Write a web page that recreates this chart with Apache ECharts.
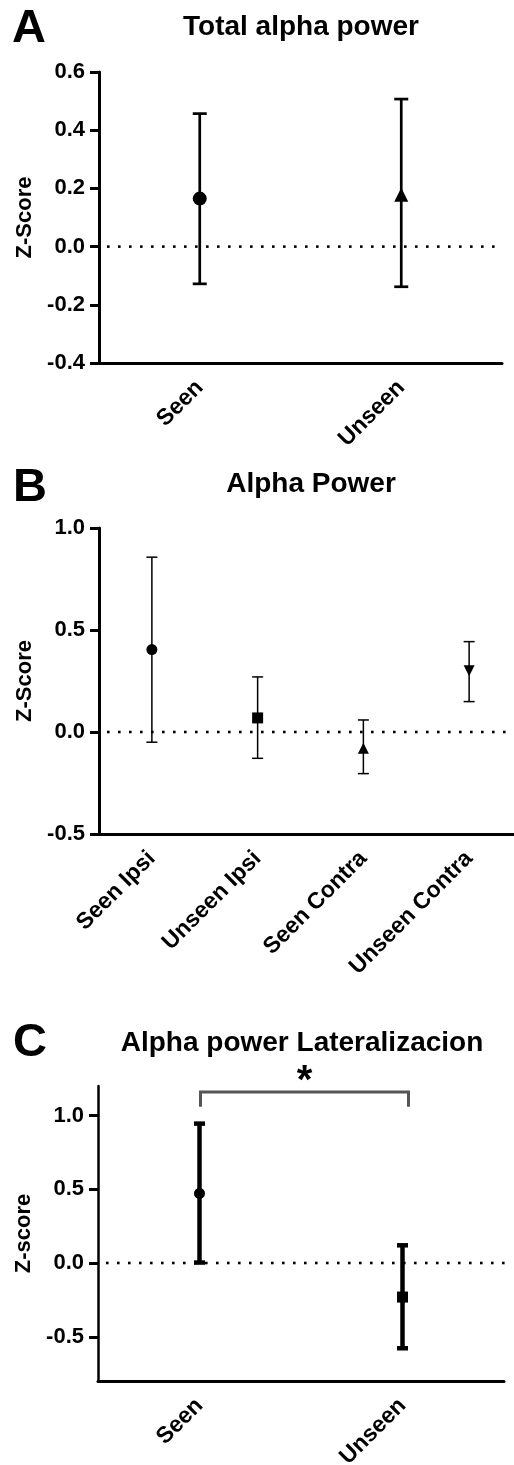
<!DOCTYPE html>
<html>
<head>
<meta charset="UTF-8" />
<title>Alpha power</title>
<script src="https://cdn.jsdelivr.net/npm/echarts@6/dist/echarts.min.js"></script>
<style type="text/css">
    html, body { margin: 0; padding: 0; background: #fff; }
    #chart { width: 514px; height: 1465px; }
</style>
</head>
<body>
<div id="chart"></div>
<script type="text/javascript">
// panel A - total alpha power
var catsA = ['Seen', 'Unseen'];
var meanA = [0.165, 0.178];
var lowA = [-0.128, -0.138];
var highA = [0.457, 0.507];
var symA = ['circle', 'triangle'];

// panel B - alpha power per side
var catsB = ['Seen Ipsi', 'Unseen Ipsi', 'Seen Contra', 'Unseen Contra'];
var meanB = [0.404, 0.069, -0.080, 0.300];
var lowB = [-0.050, -0.129, -0.204, 0.149];
var highB = [0.857, 0.270, 0.059, 0.443];
var symB = ['circle', 'rect', 'triangle', 'triangle'];
var rotB = [0, 0, 0, 180];

// panel C - lateralization
var catsC = ['Seen', 'Unseen'];
var meanC = [0.472, -0.231];
var lowC = [0.003, -0.578];
var highC = [0.945, 0.120];
var symC = ['circle', 'rect'];
var ticksC = [-0.5, 0, 0.5, 1.0];
var bracketC = [0, 1, 1.16, 1.06];   // from cat, to cat, top value, foot value

var FONT = "'Liberation Sans', Arial, sans-serif";

function fmt(v) { return v.toFixed(1); }

function xAxis(grid, cats) {
    return {
        type: 'category', gridIndex: grid, data: cats, boundaryGap: true,
        axisLine: { onZero: false, lineStyle: { color: '#000', width: 3 } },
        axisTick: { alignWithLabel: true, length: 8, lineStyle: { color: '#000', width: 3 } },
        axisLabel: { rotate: 45, margin: 21, color: '#000', fontFamily: FONT, fontWeight: 'bold', fontSize: 23, interval: 0 },
        splitLine: { show: false }
    };
}

function yAxis(grid, min, max, interval, name, gap) {
    return {
        type: 'value', gridIndex: grid, min: min, max: max, interval: interval,
        name: name, nameLocation: 'middle', nameGap: gap,
        nameTextStyle: { color: '#000', fontFamily: FONT, fontWeight: 'bold', fontSize: 22 },
        axisLine: { show: true, lineStyle: { color: '#000', width: 3 } },
        axisTick: { show: true, length: 9, lineStyle: { color: '#000', width: 3 } },
        axisLabel: { margin: 14, color: '#000', fontFamily: FONT, fontWeight: 'bold', fontSize: 22, formatter: fmt },
        splitLine: { show: false }
    };
}

// dotted line at zero across the plot area (drawn as small dots)
function zeroLine(idx) {
    return {
        type: 'custom', xAxisIndex: idx, yAxisIndex: idx, z: 2, silent: true, clip: false,
        data: [[0, 0]],
        renderItem: function (params, api) {
            var cs = params.coordSys;
            var y = api.coord([0, api.value(1)])[1];
            var dots = [];
            for (var x = cs.x + 8; x < cs.x + cs.width - 1; x += 11) {
                dots.push({ type: 'rect', shape: { x: x, y: y - 1.3, width: 2.6, height: 2.6 }, style: { fill: '#000' } });
            }
            return { type: 'group', children: dots };
        }
    };
}

function errorBars(idx, lo, hi, lw, capW) {
    return {
        type: 'custom', xAxisIndex: idx, yAxisIndex: idx, z: 3, silent: true,
        data: lo.map(function (l, i) { return [i, l, hi[i]]; }),
        renderItem: function (params, api) {
            var p0 = api.coord([api.value(0), api.value(1)]);
            var p1 = api.coord([api.value(0), api.value(2)]);
            var s = { stroke: '#000', lineWidth: lw };
            return {
                type: 'group',
                children: [
                    { type: 'line', shape: { x1: p0[0], y1: p0[1], x2: p1[0], y2: p1[1] }, style: s },
                    { type: 'line', shape: { x1: p0[0] - capW / 2, y1: p0[1], x2: p0[0] + capW / 2, y2: p0[1] }, style: s },
                    { type: 'line', shape: { x1: p1[0] - capW / 2, y1: p1[1], x2: p1[0] + capW / 2, y2: p1[1] }, style: s }
                ]
            };
        }
    };
}

function means(idx, vals, syms, rots, size) {
    return {
        type: 'scatter', xAxisIndex: idx, yAxisIndex: idx, z: 4, silent: true,
        symbolSize: size,
        itemStyle: { color: '#000', opacity: 1 },
        data: vals.map(function (v, i) {
            return { value: [i, v], symbol: syms[i], symbolRotate: rots ? rots[i] : 0 };
        })
    };
}

function label(txt, x, y, size, align) {
    return {
        type: 'text', x: x, y: y,
        style: { text: txt, font: 'bold ' + size + 'px ' + FONT, fill: '#000', textAlign: align, textVerticalAlign: 'middle' }
    };
}

var chart = echarts.init(document.getElementById('chart'));
chart.setOption({
    animation: false,
    backgroundColor: '#fff',
    grid: [
        { left: 99, top: 72, right: 12, height: 291, outerBoundsMode: 'none', containLabel: false },
        { left: 99, top: 528, right: -8, height: 306, outerBoundsMode: 'none', containLabel: false },
        { left: 98, top: 1086, right: 10, height: 295, outerBoundsMode: 'none', containLabel: false }
    ],
    xAxis: [xAxis(0, catsA), xAxis(1, catsB), xAxis(2, catsC)],
    yAxis: [
        yAxis(0, -0.4, 0.6, 0.2, 'Z-Score', 53),
        yAxis(1, -0.5, 1.0, 0.5, 'Z-Score', 53),
        (function () {
            var a = yAxis(2, -0.8, 1.2, null, 'Z-score', 58);
            delete a.interval;
            a.axisLabel.customValues = ticksC;
            a.axisTick.customValues = ticksC;
            a.axisLine.lineStyle.width = 2.5;
            return a;
        })()
    ],
    graphic: [
        label('A', 12, 29, 47, 'left'),
        label('Total alpha power', 301, 27, 28, 'center'),
        label('B', 13, 488, 47, 'left'),
        label('Alpha Power', 311, 484, 28, 'center'),
        label('C', 13, 1043, 47, 'left'),
        label('Alpha power Lateralizacion', 302, 1043, 28, 'center')
    ],
    series: [
        zeroLine(0),
        errorBars(0, lowA, highA, 2.7, 14),
        means(0, meanA, symA, null, 14),
        zeroLine(1),
        errorBars(1, lowB, highB, 1.5, 11),
        means(1, meanB, symB, rotB, 11),
        zeroLine(2),
        errorBars(2, lowC, highC, 4.5, 11),
        means(2, meanC, symC, null, 11),
        {
            type: 'custom', xAxisIndex: 2, yAxisIndex: 2, z: 5, silent: true, clip: false,
            data: [bracketC],
            renderItem: function (params, api) {
                var a = api.coord([api.value(0), api.value(3)]);
                var t = api.coord([api.value(0), api.value(2)]);
                var b = api.coord([api.value(1), api.value(3)]);
                var x0 = a[0] + 1, x1 = b[0] + 6;
                return {
                    type: 'group',
                    children: [
                        { type: 'polyline', shape: { points: [[x0, a[1]], [x0, t[1]], [x1, t[1]], [x1, b[1]]] }, style: { stroke: '#555', lineWidth: 3, fill: null } },
                        { type: 'text', style: { text: '*', x: (x0 + x1) / 2, y: t[1] + 10, font: 'bold 40px ' + FONT, fill: '#000', textAlign: 'center', textVerticalAlign: 'bottom' } }
                    ]
                };
            }
        }
    ]
});
</script>
</body>
</html>
